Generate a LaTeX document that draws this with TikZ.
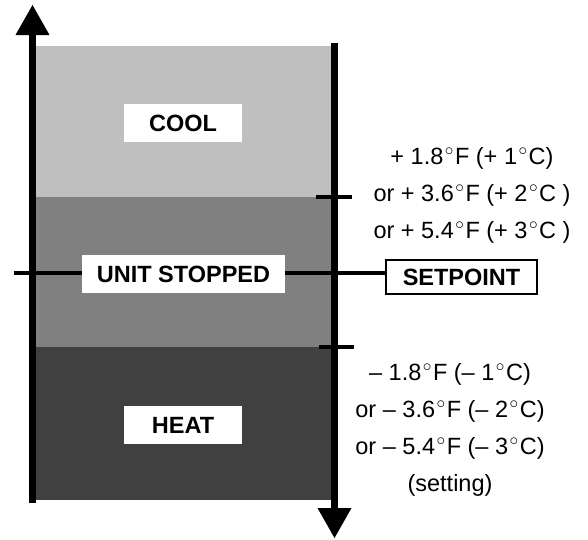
\documentclass[tikz,border=0pt]{standalone}
\usepackage{fontspec}
\setmainfont{Liberation Sans}
\usetikzlibrary{arrows.meta}

\definecolor{coolgray}{gray}{0.75}
\definecolor{stopgray}{gray}{0.5}
\definecolor{heatgray}{gray}{0.25}
\newcommand{\dgr}{\kern1.5pt$^\circ$\kern1pt}

\begin{document}
\begin{tikzpicture}[x=1pt, y=-1pt,
    axisline/.style={line width=7.5pt, -{Triangle[width=34pt, length=30pt, line width=0pt]}},
    tickline/.style={line width=4.5pt},
    zonebox/.style={fill=white, inner sep=0pt, minimum height=38pt,
      font=\fontsize{23.5}{28}\selectfont\bfseries},
    rangetext/.style={align=center, inner sep=0pt,
      font=\fontsize{23.5}{37}\selectfont}]

    \useasboundingbox (0,0) rectangle (588,539);

    % 三个区域
    \fill[coolgray] (33,46) rectangle (335,197);
    \fill[stopgray] (33,197) rectangle (335,347);
    \fill[heatgray] (33,347) rectangle (335,500);

    % 两条坐标轴
    \coordinate (Lbot) at (32.5,503);
    \coordinate (Ltop) at (32.5,5);
    \coordinate (Rtop) at (334.5,43);
    \coordinate (Rbot) at (334.5,538);
    \draw[axisline] (Lbot) -- (Ltop);
    \draw[axisline] (Rtop) -- (Rbot);

    % 右轴上的刻度
    \coordinate (T1a) at (316,197);
    \coordinate (T1b) at (352,197);
    \coordinate (T2a) at (319,347);
    \coordinate (T2b) at (354,347);
    \draw[tickline] (T1a) -- (T1b);
    \draw[tickline] (T2a) -- (T2b);

    % 设定点线
    \coordinate (SPleft) at (14,273);
    \node[draw, line width=2pt, fill=white, inner sep=0pt, minimum width=151pt,
      minimum height=34pt, font=\fontsize{23.5}{28}\selectfont\bfseries]
      (setpt) at (461.5,277) {SETPOINT};
    \draw[tickline] (SPleft) -- (SPleft -| setpt.west);

    % 区域标签
    \node[zonebox, minimum width=118pt] (cool) at (183,123) {COOL};
    \node[zonebox, minimum width=203pt] (unit) at (183.5,274) {UNIT STOPPED};
    \node[zonebox, minimum width=118pt] (heat) at (183,425) {HEAT};

    % 温差文字
    \node[rangetext] (upper) at (472,195)
      {+ 1.8\dgr F (+ 1\dgr C)\\
       or + 3.6\dgr F (+ 2\dgr C )\\
       or + 5.4\dgr F (+ 3\dgr C )};
    \node[rangetext] (lower) at (450,430)
      {– 1.8\dgr F (– 1\dgr C)\\
       or – 3.6\dgr F (– 2\dgr C)\\
       or – 5.4\dgr F (– 3\dgr C)\\
       (setting)};

\end{tikzpicture}
\end{document}
